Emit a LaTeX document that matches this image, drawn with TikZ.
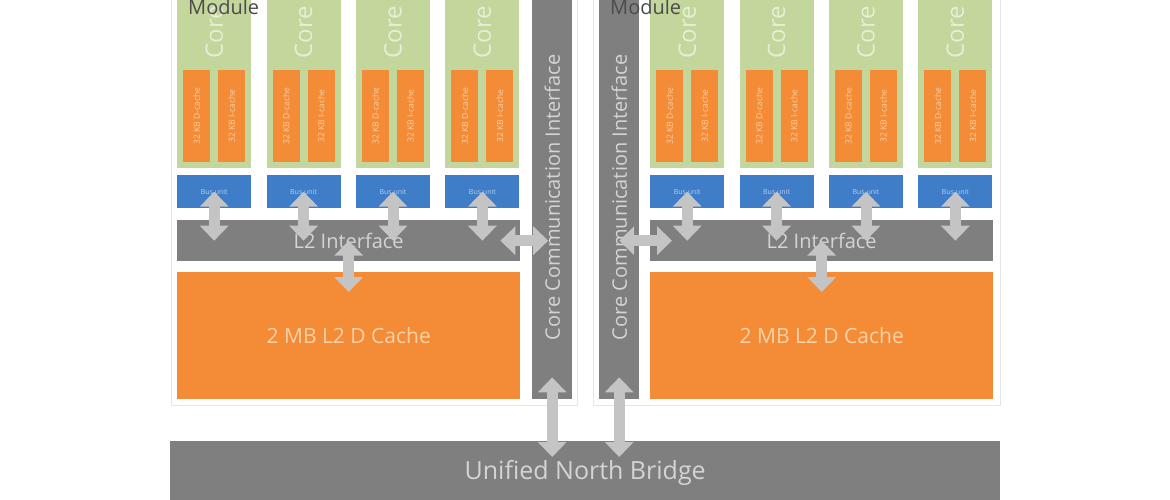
\documentclass[tikz,border=0pt]{standalone}
\usepackage{fontspec}
\setmainfont{Open Sans}
\usetikzlibrary{arrows.meta}
\definecolor{coregreen}{HTML}{C3D69B}
\definecolor{coretxt}{HTML}{E6EFD6}
\definecolor{cacheorange}{HTML}{F38B37}
\definecolor{cachetxt}{HTML}{FBD2A8}
\definecolor{busblue}{HTML}{3F7DC8}
\definecolor{bustxt}{HTML}{B8CFEA}
\definecolor{boxgray}{HTML}{7F7F7F}
\definecolor{graytxt}{HTML}{D4D4D4}
\definecolor{arrgray}{HTML}{C4C4C4}

\begin{document}
\begin{tikzpicture}[x=1pt,y=-1pt,
  box/.style={inner sep=0pt,anchor=north west},
  corebox/.style={box,fill=coregreen,minimum width=74pt,minimum height=173pt},
  corelabel/.style={inner sep=0pt,text=coretxt,font=\fontsize{24}{24}\selectfont},
  cachebox/.style={box,fill=cacheorange,minimum width=27pt,minimum height=92pt,text=cachetxt,font=\fontsize{8.5}{8.5}\selectfont},
  busbox/.style={box,fill=busblue,minimum width=74pt,minimum height=33pt,text=bustxt,font=\fontsize{7}{7}\selectfont},
  graybox/.style={box,fill=boxgray,text=graytxt},
  modlabel/.style={inner sep=0pt,anchor=base west,text=black!70,font=\fontsize{20}{20}\selectfont},
  biarrow/.style={draw=arrgray,line width=11pt,{Triangle[width=28pt,length=15pt]}-{Triangle[width=28pt,length=15pt]}}]
\useasboundingbox (0,0) rectangle (1170,500);

\node[graybox,minimum width=830pt,minimum height=64pt,font=\fontsize{25}{25}\selectfont] (nb) at (170,441) {Unified North Bridge};

% two modules: name / first core x / interface bar x / frame / Module label x
\foreach \m/\X/\C/\fl/\fr/\M in {a/177/532/171/577/188,b/650/599/593/1000/610}{
\draw[gray!20] (\fl,-5) rectangle (\fr,405);
\foreach \i in {0,...,3}{
\node[corebox] (core\m\i) at (\X+89.4*\i,-5) {};
\node[corelabel] (ct\m\i) at ([yshift=-37pt]core\m\i.north) {\rotatebox{90}{Core}};
\node[cachebox] (dc\m\i) at (\X+89.4*\i+6,70) {\rotatebox{90}{32 KB D-cache}};
\node[cachebox] (ic\m\i) at (\X+89.4*\i+41,70) {\rotatebox{90}{32 KB I-cache}};
\node[busbox] (bu\m\i) at (\X+89.4*\i,175) {Bus unit};
}
\node[graybox,minimum width=343pt,minimum height=41pt,font=\fontsize{20}{20}\selectfont] (l2\m) at (\X,220) {L2 Interface};
\node[box,fill=cacheorange,text=cachetxt,minimum width=343pt,minimum height=127pt,font=\fontsize{21}{21}\selectfont] (l2c\m) at (\X,272) {2 MB L2 D Cache};
\node[graybox,minimum width=40pt,minimum height=404pt,font=\fontsize{20}{20}\selectfont] (cci\m) at (\C,-5) {\rotatebox{90}{Core Communication Interface}};
\node[modlabel] (mod\m) at (\M,15) {Module};

\foreach \i in {0,...,3}
\draw[biarrow] (bu\m\i.center) -- (bu\m\i.center |- l2\m.center);
\draw[biarrow] (l2\m.center) -- ([yshift=-20pt]l2c\m.north);
\draw[biarrow] ([yshift=22pt]cci\m.south) -- ([yshift=-16pt]cci\m.south |- nb.north);
}

\draw[biarrow] ([xshift=-20pt]l2a.east) -- ([xshift=-4pt]ccia.center |- l2a.east);
\draw[biarrow] (ccib.center |- l2b.west) -- ([xshift=22pt]l2b.west);
\end{tikzpicture}
\end{document}
